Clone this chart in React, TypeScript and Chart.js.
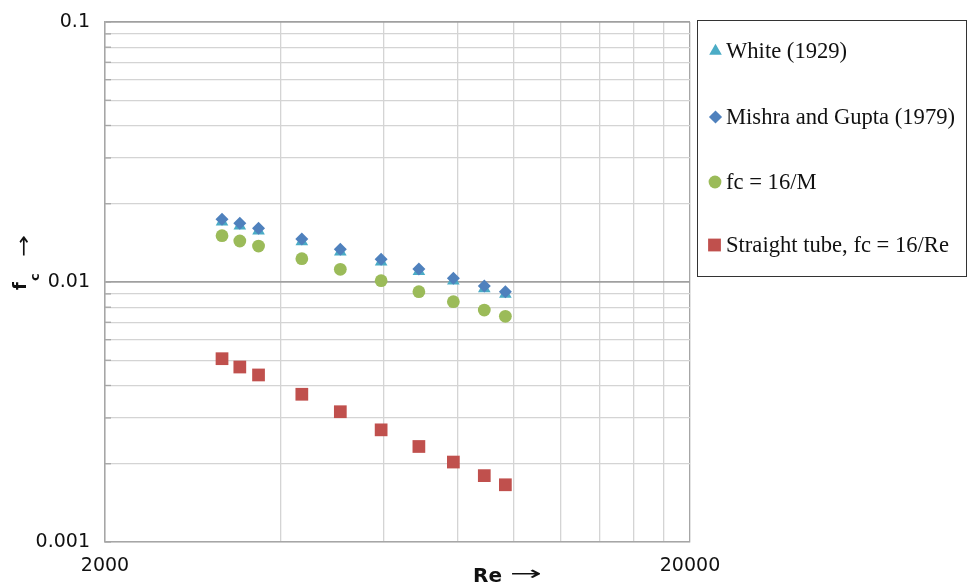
import React, { useEffect, useRef } from 'react';
import { Chart, registerables } from 'chart.js';

Chart.register(...registerables);

// Reynolds numbers (x)
const reynolds = [3170, 3400, 3660, 4340, 5050, 5930, 6880, 7880, 8900, 9670];
// Friction factor series (y)
const white1929 = [0.01703, 0.01645, 0.01574, 0.01431, 0.01306, 0.01196, 0.01098, 0.01011, 0.00944, 0.00898];
const mishraGupta1979 = [0.01742, 0.01682, 0.01609, 0.01464, 0.01336, 0.01223, 0.01122, 0.01033, 0.00965, 0.00918];
const fc16M = [0.01507, 0.01438, 0.01375, 0.01229, 0.01119, 0.01012, 0.00918, 0.0084, 0.0078, 0.00738];
const straightTube = [0.00507, 0.00471, 0.00439, 0.0037, 0.00317, 0.0027, 0.00233, 0.00203, 0.0018, 0.00166];

const seriesNames = ['White (1929)', 'Mishra and Gupta (1979)', 'fc = 16/M', 'Straight tube, fc = 16/Re'];

// Grid / tick values
const xGridValues = [2000, 4000, 6000, 8000, 10000, 12000, 14000, 16000, 18000, 20000];
const xLabelValues = [2000, 20000];
const xLabelTexts = ['2000', '20000'];
const yGridValues = [
  0.001, 0.002, 0.003, 0.004, 0.005, 0.006, 0.007, 0.008, 0.009,
  0.01, 0.02, 0.03, 0.04, 0.05, 0.06, 0.07, 0.08, 0.09, 0.1,
];
const yLabelValues = [0.001, 0.01, 0.1];
const yLabelTexts = ['0.001', '0.01', '0.1'];
const yMajorValues = [0.01, 0.1];
const xMajorValues = [20000];

const COLORS = ['#4bacc6', '#4f81bd', '#9bbb59', '#c0504d'];
const TICK_FONT = '"DejaVu Sans", sans-serif';

function drawMarker(ctx: CanvasRenderingContext2D, kind: string, x: number, y: number, color: string) {
  ctx.save();
  ctx.fillStyle = color;
  ctx.beginPath();
  if (kind === 'triangle') {
    const r = 7.3;
    ctx.moveTo(x, y - r);
    ctx.lineTo(x + r * Math.sin((2 * Math.PI) / 3), y + r / 2);
    ctx.lineTo(x - r * Math.sin((2 * Math.PI) / 3), y + r / 2);
    ctx.closePath();
  } else if (kind === 'rectRot') {
    const r = 6.6;
    ctx.moveTo(x, y - r);
    ctx.lineTo(x + r, y);
    ctx.lineTo(x, y + r);
    ctx.lineTo(x - r, y);
    ctx.closePath();
  } else if (kind === 'circle') {
    ctx.arc(x, y, 6.4, 0, Math.PI * 2);
  } else {
    ctx.rect(x - 6.4, y - 6.4, 12.8, 12.8);
  }
  ctx.fill();
  ctx.restore();
}

function drawArrow(ctx: CanvasRenderingContext2D, x: number, y: number, width: number, font: string) {
  ctx.save();
  ctx.font = font;
  const w = ctx.measureText('→').width || 1;
  ctx.translate(x, y);
  ctx.scale(width / w, 1);
  ctx.textAlign = 'left';
  ctx.textBaseline = 'middle';
  ctx.fillText('→', 0, 0);
  ctx.restore();
}

const overlayPlugin = {
  id: 'overlay',
  beforeDatasetsDraw(chart: any) {
    const ctx: CanvasRenderingContext2D = chart.ctx;
    const ys = chart.scales.y;
    const left = chart.chartArea.left;
    ctx.save();
    ctx.strokeStyle = '#a6a6a6';
    ctx.lineWidth = 1.3;
    for (const v of yGridValues) {
      const py = ys.getPixelForValue(v);
      ctx.beginPath();
      ctx.moveTo(left, py);
      ctx.lineTo(left + 6, py);
      ctx.stroke();
    }
    ctx.restore();
  },
  afterDraw(chart: any) {
    const ctx: CanvasRenderingContext2D = chart.ctx;
    ctx.save();
    ctx.fillStyle = '#111';

    // X axis title: "Re →"
    ctx.font = `bold 20px ${TICK_FONT}`;
    ctx.textAlign = 'left';
    ctx.textBaseline = 'alphabetic';
    ctx.fillText('Re', 473, 582);
    drawArrow(ctx, 510, 575, 32, `20px ${TICK_FONT}`);

    // Y axis title: "f_c →" rotated
    ctx.save();
    ctx.translate(25.5, 290);
    ctx.rotate(-Math.PI / 2);
    ctx.font = `bold 18px ${TICK_FONT}`;
    ctx.textAlign = 'left';
    ctx.textBaseline = 'alphabetic';
    ctx.fillText('f', 0, 0);
    ctx.font = `bold 13px ${TICK_FONT}`;
    ctx.fillText('c', 9, 13);
    drawArrow(ctx, 33, -1, 22, `20px ${TICK_FONT}`);
    ctx.restore();

    // Legend box
    const lx = 697.5, ly = 20.5, lw = 269, lh = 256;
    ctx.strokeStyle = '#333';
    ctx.lineWidth = 1;
    ctx.strokeRect(lx, ly, lw, lh);

    const kinds = ['triangle', 'rectRot', 'circle', 'rect'];
    const itemY = [51, 117, 182, 245];
    const markerX = [715.5, 715.5, 715, 714.5];
    ctx.font = '22.6px "Liberation Serif", "Times New Roman", serif';
    ctx.textBaseline = 'middle';
    ctx.textAlign = 'left';
    for (let i = 0; i < seriesNames.length; i++) {
      drawMarker(ctx, kinds[i], markerX[i], itemY[i], COLORS[i]);
      ctx.fillStyle = '#111';
      ctx.fillText(seriesNames[i], 726, itemY[i] + 1);
    }
    ctx.restore();
  },
};

const toPoints = (ys: number[]) => reynolds.map((r, i) => ({ x: r, y: ys[i] }));

export default function App() {
  const canvasRef = useRef<HTMLCanvasElement | null>(null);

  useEffect(() => {
    document.body.style.margin = '0';
    const canvas = canvasRef.current;
    if (!canvas) return;
    const chart = new Chart(canvas, {
      type: 'scatter',
      data: {
        datasets: [
          {
            label: seriesNames[0],
            data: toPoints(white1929),
            pointStyle: 'triangle',
            pointRadius: 7.3,
            backgroundColor: COLORS[0],
            borderColor: COLORS[0],
            borderWidth: 0,
            order: 3,
          },
          {
            label: seriesNames[1],
            data: toPoints(mishraGupta1979),
            pointStyle: 'rectRot',
            pointRadius: 6.5,
            backgroundColor: COLORS[1],
            borderColor: COLORS[1],
            borderWidth: 0,
            order: 2,
          },
          {
            label: seriesNames[2],
            data: toPoints(fc16M),
            pointStyle: 'circle',
            pointRadius: 6.4,
            backgroundColor: COLORS[2],
            borderColor: COLORS[2],
            borderWidth: 0,
            order: 1,
          },
          {
            label: seriesNames[3],
            data: toPoints(straightTube),
            pointStyle: 'rect',
            pointRadius: 9,
            backgroundColor: COLORS[3],
            borderColor: COLORS[3],
            borderWidth: 0,
            order: 0,
          },
        ],
      },
      options: {
        responsive: false,
        animation: false,
        events: [],
        layout: { padding: { left: 0, top: 22, right: 279, bottom: 0 } },
        plugins: {
          legend: { display: false },
          tooltip: { enabled: false },
        },
        scales: {
          x: {
            type: 'logarithmic',
            min: 2000,
            max: 20000,
            afterBuildTicks: (scale: any) => {
              scale.ticks = xGridValues.map((v) => ({ value: v }));
            },
            afterFit: (scale: any) => {
              scale.height = 45;
              scale.paddingLeft = 0;
              scale.paddingRight = 0;
            },
            ticks: {
              autoSkip: false,
              maxRotation: 0,
              minRotation: 0,
              padding: 13,
              color: '#111',
              font: { family: TICK_FONT, size: 19 },
              callback: (v: any) => {
                const idx = xLabelValues.indexOf(Number(v));
                return idx >= 0 ? xLabelTexts[idx] : '';
              },
            },
            grid: {
              drawTicks: false,
              color: (c: any) => (c.tick && xMajorValues.includes(c.tick.value) ? '#a6a6a6' : '#d4d4d4'),
              lineWidth: 1.3,
            },
            border: { display: true, color: '#a6a6a6', width: 1.5 },
          },
          y: {
            type: 'logarithmic',
            min: 0.001,
            max: 0.1,
            afterBuildTicks: (scale: any) => {
              scale.ticks = yGridValues.map((v) => ({ value: v }));
            },
            afterFit: (scale: any) => {
              scale.width = 105;
              scale.paddingTop = 0;
              scale.paddingBottom = 0;
            },
            ticks: {
              autoSkip: false,
              padding: 15,
              color: '#111',
              font: { family: TICK_FONT, size: 19 },
              callback: (v: any) => {
                const idx = yLabelValues.indexOf(Number(v));
                return idx >= 0 ? yLabelTexts[idx] : '';
              },
            },
            grid: {
              drawTicks: false,
              color: (c: any) => (c.tick && yMajorValues.includes(c.tick.value) ? '#a0a0a0' : '#d4d4d4'),
              lineWidth: (c: any) => (c.tick && yMajorValues.includes(c.tick.value) ? 1.8 : 1.3),
            },
            border: { display: true, color: '#a6a6a6', width: 1.5 },
          },
        },
      },
      plugins: [overlayPlugin],
    } as any);
    return () => chart.destroy();
  }, []);

  return (
    <div style={{ position: 'absolute', left: 0, top: 0, width: 969, height: 587 }}>
      <canvas ref={canvasRef} width={969} height={587} style={{ display: 'block', width: 969, height: 587 }} />
    </div>
  );
}
